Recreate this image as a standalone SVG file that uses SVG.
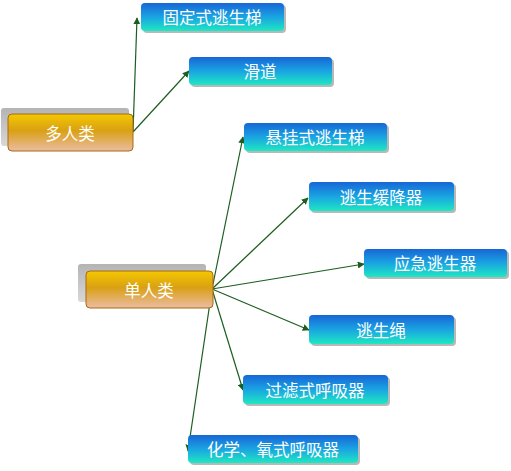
<svg xmlns="http://www.w3.org/2000/svg" width="511" height="471" viewBox="0 0 511 471">
<defs>
<linearGradient id="gb" x1="0" y1="0" x2="0" y2="1">
<stop offset="0" stop-color="#1766d6"/>
<stop offset="0.5" stop-color="#1aa4e2"/>
<stop offset="1" stop-color="#1ee8c2"/>
</linearGradient>
<linearGradient id="go" x1="0" y1="0" x2="0" y2="1">
<stop offset="0" stop-color="#f4c800"/>
<stop offset="0.45" stop-color="#d9a014"/>
<stop offset="1" stop-color="#ebbca4"/>
</linearGradient>
<linearGradient id="gg" x1="0" y1="0" x2="0" y2="1">
<stop offset="0" stop-color="#b4b4b4"/>
<stop offset="1" stop-color="#d8d8d8"/>
</linearGradient>
<marker id="ah" viewBox="0 0 10 10" refX="9" refY="5" markerWidth="7" markerHeight="7" markerUnits="userSpaceOnUse" orient="auto">
<path d="M0,0 L10,5 L0,10 z" fill="#1b5e20"/>
</marker>
</defs>
<style>
.b{fill:url(#gb);}
.sh{fill:#9a9a9a;opacity:0.7;}
.o{fill:url(#go);stroke:#a86a10;stroke-width:1;}
.bk{fill:url(#gg);}
.t{font-family:"Noto Sans CJK SC","Noto Sans",sans-serif;font-size:16.5px;fill:#ffffff;text-anchor:middle;dominant-baseline:central;}
.c{stroke:#1b5e20;stroke-width:1.2;fill:none;marker-end:url(#ah);}
</style>
<rect width="511" height="471" fill="#ffffff"/>
<g id="connectors">
<line class="c" x1="133" y1="132" x2="137" y2="18"/>
<line class="c" x1="133" y1="132" x2="189" y2="71"/>
<line class="c" x1="212" y1="289" x2="243" y2="137"/>
<line class="c" x1="212" y1="289" x2="308" y2="198"/>
<line class="c" x1="212" y1="289" x2="364" y2="264"/>
<line class="c" x1="212" y1="289" x2="309" y2="330"/>
<line class="c" x1="212" y1="289" x2="243" y2="390"/>
<line class="c" x1="212" y1="289" x2="188" y2="451"/>
</g>
<g id="duoren">
<rect class="bk" x="1" y="108" width="128" height="38" rx="3"/>
<rect class="o" x="8" y="114" width="125" height="37" rx="4"/>
<text class="t" x="70" y="133">多人类</text>
</g>
<g id="danren">
<rect class="bk" x="78" y="264" width="128" height="38" rx="3"/>
<rect class="o" x="86" y="271" width="127" height="37" rx="4"/>
<text class="t" x="149" y="290">单人类</text>
</g>
<g id="n1">
<rect class="sh" x="143" y="5" width="143" height="28" rx="4"/>
<rect class="b" x="141" y="3" width="143" height="28" rx="4"/>
<text class="t" x="212" y="17">固定式逃生梯</text>
</g>
<g id="n2">
<rect class="sh" x="191" y="59" width="143" height="28" rx="4"/>
<rect class="b" x="189" y="57" width="143" height="28" rx="4"/>
<text class="t" x="260" y="71">滑道</text>
</g>
<g id="n3">
<rect class="sh" x="246" y="125" width="143" height="28" rx="4"/>
<rect class="b" x="244" y="123" width="143" height="28" rx="4"/>
<text class="t" x="315" y="137">悬挂式逃生梯</text>
</g>
<g id="n4">
<rect class="sh" x="311" y="184" width="145" height="29" rx="4"/>
<rect class="b" x="309" y="182" width="145" height="29" rx="4"/>
<text class="t" x="381" y="197">逃生缓降器</text>
</g>
<g id="n5">
<rect class="sh" x="366" y="251" width="143" height="28" rx="4"/>
<rect class="b" x="364" y="249" width="143" height="28" rx="4"/>
<text class="t" x="435" y="263">应急逃生器</text>
</g>
<g id="n6">
<rect class="sh" x="311" y="317" width="145" height="29" rx="4"/>
<rect class="b" x="309" y="315" width="145" height="29" rx="4"/>
<text class="t" x="381" y="330">逃生绳</text>
</g>
<g id="n7">
<rect class="sh" x="245" y="377" width="145" height="29" rx="4"/>
<rect class="b" x="243" y="375" width="145" height="29" rx="4"/>
<text class="t" x="315" y="390">过滤式呼吸器</text>
</g>
<g id="n8">
<rect class="sh" x="190" y="437" width="170" height="28" rx="4"/>
<rect class="b" x="188" y="435" width="170" height="28" rx="4"/>
<text class="t" x="273" y="449">化学、氧式呼吸器</text>
</g>
</svg>
